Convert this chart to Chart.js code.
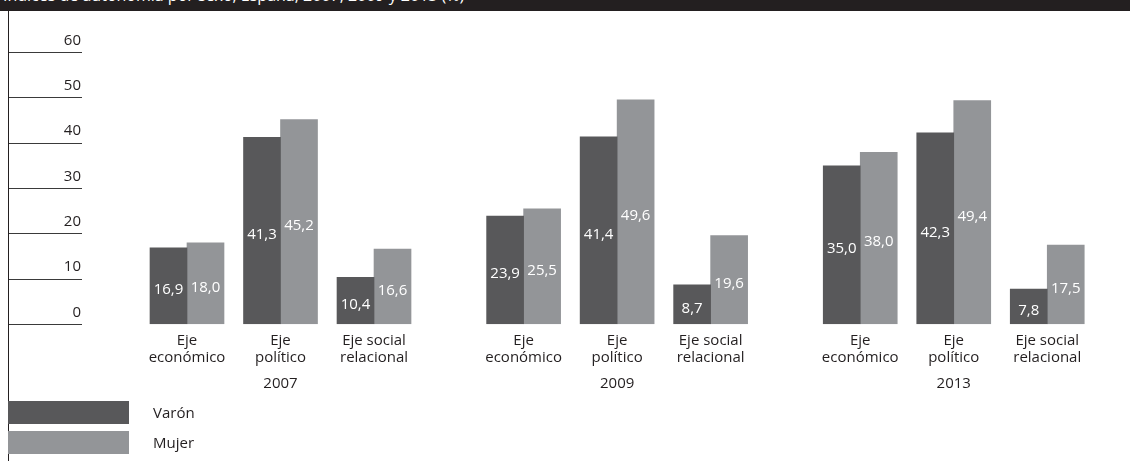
<!DOCTYPE html>
<html>
<head>
<meta charset="utf-8">
<script src="https://cdn.jsdelivr.net/npm/chart.js@4/dist/chart.umd.min.js"></script>
<style>
  html, body { margin: 0; padding: 0; background: #ffffff; }
  #wrap { position: relative; width: 1130px; height: 461px; overflow: hidden; font-family: "Open Sans", sans-serif; color: #231f20; }
  #titlebar { position: absolute; left: 0; top: 0; width: 1130px; height: 10.5px; background: #231f20; overflow: hidden; }
  #title { position: absolute; left: 3px; top: -14px; font-size: 16px; line-height: 18px; color: #ffffff; white-space: nowrap; }
  #leftline { position: absolute; left: 8px; top: 10px; width: 1px; height: 451px; background: #231f20; }
  #chart { position: absolute; left: 0; top: 0; }
  .lg-swatch { position: absolute; left: 8px; width: 121px; height: 23px; }
  .lg-label { position: absolute; left: 153px; font-size: 15px; line-height: 23px; color: #231f20; }
</style>
</head>
<body>
<div id="wrap">
  <canvas id="chart" width="1130" height="461"></canvas>
  <div id="titlebar"><div id="title">Índices de autonomía por sexo, España, 2007, 2009 y 2013 (%)</div></div>
  <div id="leftline"></div>
  <div id="legend"></div>
</div>
<script>
// ---- Data ----
const years = ['2007', '2009', '2013'];
const categories = [['Eje', 'económico'], ['Eje', 'político'], ['Eje social', 'relacional']];
const seriesNames = ['Varón', 'Mujer'];
const varon = [16.9, 41.3, 10.4, 23.9, 41.4, 8.7, 35.0, 42.3, 7.8];
const mujer = [18.0, 45.2, 16.6, 25.5, 49.6, 19.6, 38.0, 49.4, 17.5];
const yTicks = [0, 10, 20, 30, 40, 50, 60];

// ---- Layout constants (not data) ----
const GROUP_SPACING = 3.6;   // distance between year groups, in category units
const colors = ['#58585a', '#939598'];
const textColor = '#231f20';

const catPos = [];
const catLabels = [];
years.forEach((y, g) => categories.forEach((c, i) => { catPos.push(g * GROUP_SPACING + i); catLabels.push(c); }));
const yearPos = years.map((y, g) => g * GROUP_SPACING + 1);

const toPoints = arr => arr.map((v, i) => ({ x: catPos[i], y: v }));
const fmt = v => v.toFixed(1).replace('.', ',');

const barLabels = {
  id: 'barLabels',
  afterDatasetsDraw(chart) {
    const ctx = chart.ctx;
    ctx.save();
    ctx.font = '15px "Open Sans", sans-serif';
    ctx.fillStyle = '#ffffff';
    ctx.textAlign = 'center';
    ctx.textBaseline = 'middle';
    chart.data.datasets.forEach((ds, di) => {
      const meta = chart.getDatasetMeta(di);
      meta.data.forEach((bar, i) => {
        const p = bar.getProps(['x', 'y', 'base'], true);
        ctx.fillText(fmt(ds.data[i].y), p.x, (p.y + p.base) / 2 + 4);
      });
    });
    ctx.restore();
  }
};

new Chart(document.getElementById('chart'), {
  type: 'bar',
  data: {
    datasets: [
      { label: seriesNames[0], data: toPoints(varon), backgroundColor: colors[0], xAxisID: 'x', yAxisID: 'y' },
      { label: seriesNames[1], data: toPoints(mujer), backgroundColor: colors[1], xAxisID: 'x', yAxisID: 'y' }
    ]
  },
  options: {
    responsive: false,
    animation: false,
    events: [],
    barThickness: 37,
    layout: { padding: { left: 8, top: 52.7, right: 0, bottom: 62.7 } },
    plugins: { legend: { display: false }, tooltip: { enabled: false } },
    scales: {
      x: {
        type: 'linear', position: 'bottom', weight: 0,
        min: -1.123, max: 10.085, bounds: 'data', offset: false,
        grid: { display: false, drawTicks: false, offset: false },
        border: { display: false },
        afterBuildTicks: s => { s.ticks = catPos.map(v => ({ value: v })); },
        afterFit: s => { s.height = 44; },
        ticks: {
          autoSkip: false, maxRotation: 0, padding: 8,
          color: textColor, font: { family: '"Open Sans", sans-serif', size: 15, lineHeight: 1.15 },
          callback: (v, i) => catLabels[i]
        }
      },
      x2: {
        type: 'linear', axis: 'x', position: 'bottom', weight: 1,
        min: -1.123, max: 10.085, bounds: 'data', offset: false,
        grid: { display: false, drawTicks: false },
        border: { display: false },
        afterBuildTicks: s => { s.ticks = yearPos.map(v => ({ value: v })); },
        afterFit: s => { s.height = 30; },
        ticks: {
          autoSkip: false, maxRotation: 0, padding: 6,
          color: textColor, font: { family: '"Open Sans", sans-serif', size: 15 },
          callback: (v, i) => years[i]
        }
      },
      y: {
        type: 'linear', position: 'left', min: 0, max: 60,
        afterBuildTicks: s => { s.ticks = yTicks.map(v => ({ value: v })); },
        afterFit: s => { s.width = 74; },
        grid: { drawOnChartArea: false, drawTicks: true, tickLength: 74, color: '#3a3a3a', lineWidth: 1 },
        border: { display: false },
        ticks: {
          padding: -73, labelOffset: -12, crossAlign: 'near',
          color: textColor, font: { family: '"Open Sans", sans-serif', size: 15 },
          callback: v => String(v)
        }
      }
    }
  },
  plugins: [barLabels]
});

// ---- HTML legend built from the series ----
const legend = document.getElementById('legend');
seriesNames.forEach((name, i) => {
  const top = 401 + i * 30;
  const sw = document.createElement('div');
  sw.className = 'lg-swatch'; sw.style.top = top + 'px'; sw.style.background = colors[i];
  const lb = document.createElement('div');
  lb.className = 'lg-label'; lb.style.top = top + 'px'; lb.textContent = name;
  legend.appendChild(sw); legend.appendChild(lb);
});
</script>
</body>
</html>
